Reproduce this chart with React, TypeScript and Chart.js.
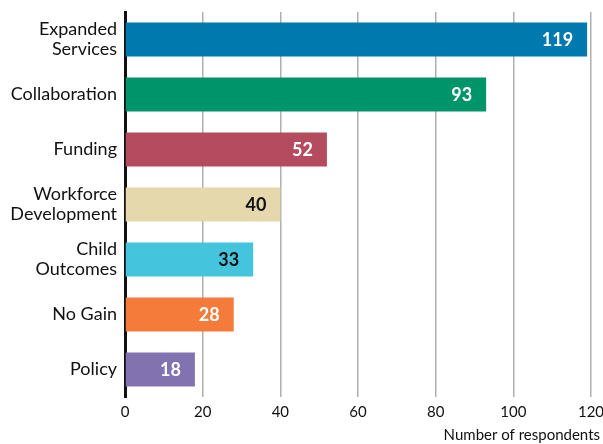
import React, { useEffect, useRef } from "react";
import { Chart, registerables } from "chart.js";

Chart.register(...registerables);

const categories: (string | string[])[] = [
  ["Expanded", "Services"],
  "Collaboration",
  "Funding",
  ["Workforce", "Development"],
  ["Child", "Outcomes"],
  "No Gain",
  "Policy",
];
const values = [119, 93, 52, 40, 33, 28, 18];
const barColors = ["#0079AE", "#00946A", "#B54B5E", "#E4D8AC", "#44C5DD", "#F47B3A", "#8272B0"];
const labelColors = ["#ffffff", "#ffffff", "#ffffff", "#111111", "#111111", "#ffffff", "#ffffff"];
const xTicks = [0, 20, 40, 60, 80, 100, 120];
const axisTitle = "Number of respondents";

const FONT = "Lato, 'Open Sans', sans-serif";

const valueLabels = {
  id: "valueLabels",
  afterDatasetsDraw(chart: any) {
    const ctx = chart.ctx;
    const meta = chart.getDatasetMeta(0);
    ctx.save();
    ctx.font = `bold 18px ${FONT}`;
    ctx.textAlign = "right";
    ctx.textBaseline = "middle";
    meta.data.forEach((bar: any, i: number) => {
      ctx.fillStyle = labelColors[i];
      ctx.fillText(String(values[i]), bar.x - 14, bar.y + 1);
    });
    ctx.restore();
  },
  afterDraw(chart: any) {
    const ctx = chart.ctx;
    ctx.save();
    ctx.font = `15px ${FONT}`;
    ctx.fillStyle = "#111";
    ctx.textAlign = "right";
    ctx.textBaseline = "middle";
    ctx.fillText(axisTitle, 600, 435);
    ctx.restore();
  },
};

export default function App() {
  const ref = useRef<HTMLCanvasElement>(null);
  useEffect(() => {
    document.body.style.margin = "0";
    const chart = new Chart(ref.current!, {
      type: "bar",
      data: {
        labels: categories,
        datasets: [
          {
            data: values,
            backgroundColor: barColors,
            borderWidth: 0,
            barPercentage: 0.62,
            categoryPercentage: 1,
          },
        ],
      },
      options: {
        indexAxis: "y",
        animation: false,
        responsive: false,
        maintainAspectRatio: false,
        layout: { padding: { left: 0, right: 12, top: 12, bottom: 0 } },
        plugins: { legend: { display: false }, tooltip: { enabled: false } },
        scales: {
          x: {
            min: 0,
            max: 120,
            afterBuildTicks: (s: any) => {
              s.ticks = xTicks.map((v) => ({ value: v }));
            },
            grid: {
              color: (c: any) => (c.tick && c.tick.value === 0 ? "rgba(0,0,0,0)" : "#AFAFAF"),
              lineWidth: 1.5,
              drawTicks: false,
            },
            border: { display: false },
            ticks: {
              color: "#111",
              font: { family: FONT, size: 15 },
              padding: 6,
            },
            afterFit: (s: any) => {
              s.height = 47;
              s.paddingLeft = 0;
              s.paddingRight = 0;
            },
          },
          y: {
            grid: { display: false, drawTicks: false },
            border: { display: true, color: "#111", width: 3 },
            ticks: {
              color: "#111",
              font: { family: FONT, size: 18, lineHeight: 1.12 },
              padding: 8,
            },
            afterFit: (s: any) => {
              s.width = 125;
              s.paddingTop = 0;
              s.paddingBottom = 0;
            },
          },
        },
      },
      plugins: [valueLabels],
    });
    return () => chart.destroy();
  }, []);
  return <canvas ref={ref} width={603} height={444} style={{ display: "block" }} />;
}
